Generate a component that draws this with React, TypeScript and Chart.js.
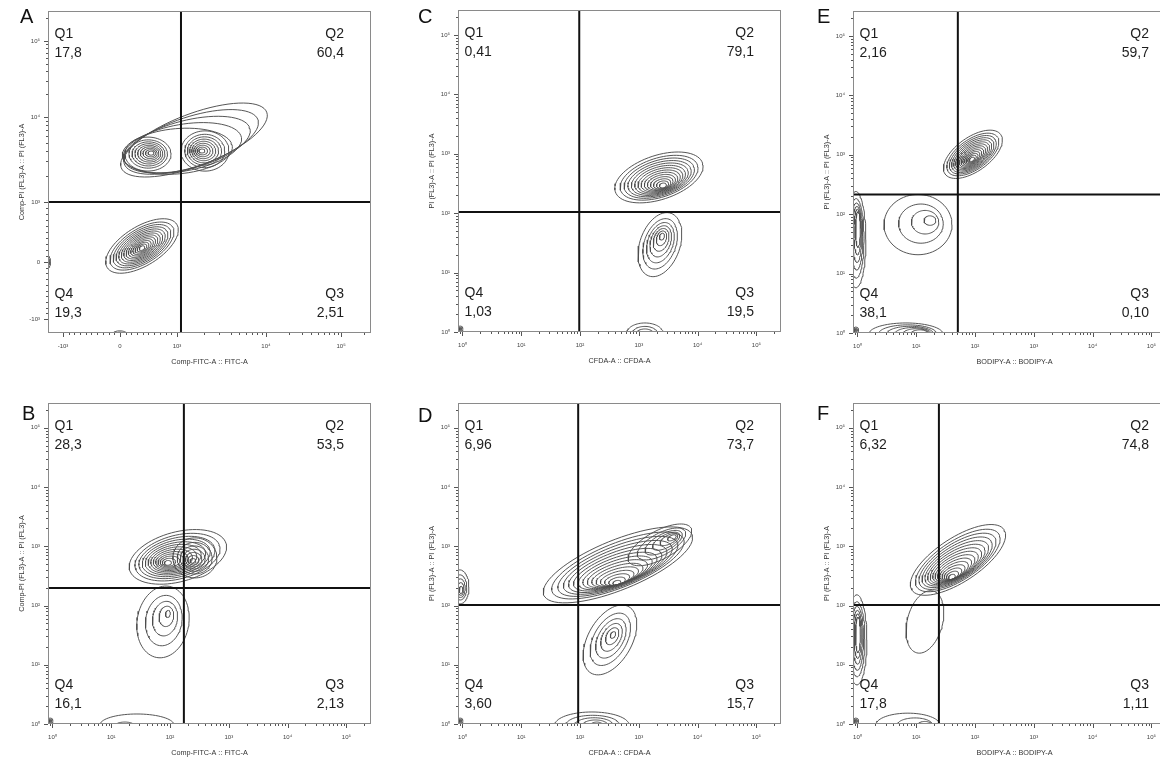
import React, { useEffect, useRef } from 'react';
import { Chart, registerables } from 'chart.js';
Chart.register(...registerables);

// ---------------- data ----------------
const quadrantNames = ['Q1', 'Q2', 'Q3', 'Q4'];
const quadA = ['17,8', '60,4', '2,51', '19,3'];
const quadB = ['28,3', '53,5', '2,13', '16,1'];
const quadC = ['0,41', '79,1', '19,5', '1,03'];
const quadD = ['6,96', '73,7', '15,7', '3,60'];
const quadE = ['2,16', '59,7', '0,10', '38,1'];
const quadF = ['6,32', '74,8', '1,11', '17,8'];

// log-axis decade tick labels (10^0 .. 10^5)
const decadeLabels = ['10⁰', '10¹', '10²', '10³', '10⁴', '10⁵'];
// biexponential (panel A) tick labels and their channel values (0..1024 display)
const biexLabels = ['-10³', '0', '10³', '10⁴', '10⁵'];
const biexXChannels = [47.6, 228, 409, 691, 929];
const biexYChannels = [44.5, 225.8, 416.6, 687, 928.6];

// quadrant gates [x, y]
const gatesA = [421.6, 416.6]; // channels
const gatesB = [172, 198];
const gatesC = [97, 105];
const gatesD = [93, 102];
const gatesE = [51, 214];
const gatesF = [24.3, 102];

// contour populations: o = outer ring [cx, cy, rx, ry, angleDeg], i = innermost ring, n = levels
// panel A in channel units, others in log10 decades
const contoursA = [
  { o: [462.8, 613.7, 247, 83, 21], i: [410, 578, 175, 72, 5], n: 5 },
  { o: [317, 569, 73, 54, 0], i: [326.5, 572, 9.5, 6.4, 0], n: 9 },
  { o: [497.7, 578.8, 76, 64, 0], i: [488, 578.8, 9.5, 6.4, 0], n: 9 },
  { o: [298, 276.7, 130, 62, 32], i: [298, 270, 9.5, 6.4, 32], n: 14 },
  { o: [228, -3, 22, 10, 0], i: [228, -3, 6, 3, 0], n: 3 },
  { o: [0, 225.8, 8, 19, 0], i: [0, 225.8, 3, 6, 0], n: 3 },
];
const contoursB = [
  { o: [2.134, 2.821, 0.85, 0.42, 15], i: [1.964, 2.72, 0.06, 0.04, 5], n: 13 },
  { o: [2.423, 2.804, 0.374, 0.338, 0], i: [2.39, 2.753, 0.05, 0.04, 0], n: 7 },
  { o: [1.88, 1.723, 0.61, 0.44, 80], i: [1.964, 1.858, 0.06, 0.04, 80], n: 5 },
  { o: [1.437, -0.017, 0.63, 0.186, 0], i: [1.233, -0.017, 0.15, 0.05, 0], n: 2 },
  { o: [-0.04, 0.05, 0.05, 0.05, 0], i: [-0.04, 0.05, 0.015, 0.015, 0], n: 3 },
];
const contoursC = [
  { o: [3.342, 2.601, 0.78, 0.372, 18], i: [3.41, 2.466, 0.06, 0.04, 12], n: 14 },
  { o: [3.359, 1.47, 0.56, 0.34, 70], i: [3.393, 1.605, 0.06, 0.04, 70], n: 7 },
  { o: [3.104, -0.017, 0.306, 0.169, 0], i: [3.104, -0.017, 0.136, 0.068, 0], n: 3 },
  { o: [-0.04, 0.05, 0.05, 0.05, 0], i: [-0.04, 0.05, 0.015, 0.015, 0], n: 3 },
];
const contoursD = [
  { o: [2.645, 2.686, 1.36, 0.42, 22], i: [2.628, 2.382, 0.07, 0.04, 14], n: 15 },
  { o: [3.359, 3.024, 0.6, 0.24, 28], i: [3.563, 3.142, 0.08, 0.04, 28], n: 6 },
  { o: [2.509, 1.419, 0.646, 0.372, 60], i: [2.56, 1.503, 0.06, 0.04, 60], n: 6 },
  { o: [2.202, -0.017, 0.63, 0.22, 0], i: [2.287, -0.017, 0.1, 0.05, 0], n: 5 },
  { o: [-0.042, 2.314, 0.153, 0.287, 0], i: [-0.025, 2.264, 0.03, 0.06, 0], n: 5 },
  { o: [-0.04, 0.05, 0.05, 0.05, 0], i: [-0.04, 0.05, 0.015, 0.015, 0], n: 3 },
];
const contoursE = [
  { o: [1.964, 3.007, 0.578, 0.287, 35], i: [1.947, 2.922, 0.05, 0.03, 35], n: 14 },
  { o: [1.03, 1.824, 0.578, 0.507, 0], i: [1.233, 1.892, 0.1, 0.08, 0], n: 4 },
  { o: [-0.026, 1.571, 0.17, 0.81, 0], i: [0.008, 1.74, 0.04, 0.3, 0], n: 6 },
  { o: [0.825, -0.017, 0.63, 0.186, 0], i: [1.06, -0.017, 0.15, 0.07, 0], n: 6 },
  { o: [-0.03, 0.05, 0.05, 0.05, 0], i: [-0.03, 0.05, 0.015, 0.015, 0], n: 3 },
];
const contoursF = [
  { o: [1.71, 2.77, 0.935, 0.372, 33], i: [1.607, 2.483, 0.06, 0.04, 24], n: 15 },
  { o: [1.148, 1.723, 0.54, 0.3, 75], i: [1.148, 1.723, 0.54, 0.3, 75], n: 1 },
  { o: [-0.009, 1.42, 0.17, 0.76, 0], i: [0.008, 1.504, 0.04, 0.3, 0], n: 6 },
  { o: [0.858, -0.017, 0.544, 0.2, 0], i: [1.148, -0.017, 0.12, 0.06, 0], n: 3 },
  { o: [-0.03, 0.05, 0.05, 0.05, 0], i: [-0.03, 0.05, 0.015, 0.015, 0], n: 3 },
];

// ---------------- layout ----------------
const FONT = '"Liberation Sans", Arial, sans-serif';
const PW = 323;
const LEFT_PAD = 60;
const TOP_PAD = 15;
const RIGHT_PAD = 40;
const BOTTOM_PAD = 50;
const LOG_MIN_X = 0.84;
const LOG_MIN_Y = 1;
const LOG_MAX = 262144;

type Pop = { o: number[]; i: number[]; n: number };
type PanelCfg = {
  letter: string; kind: 'biex' | 'log'; xTitle: string; yTitle: string;
  quad: string[]; gate: number[]; contours: Pop[];
  L: number; T: number; H: number; letterPos: number[];
};

const panels: PanelCfg[] = [
  { letter: 'A', kind: 'biex', xTitle: 'Comp-FITC-A :: FITC-A', yTitle: 'Comp-PI (FL3)-A :: PI (FL3)-A', quad: quadA, gate: gatesA, contours: contoursA, L: 48, T: 11, H: 322, letterPos: [20, 23] },
  { letter: 'B', kind: 'log', xTitle: 'Comp-FITC-A :: FITC-A', yTitle: 'Comp-PI (FL3)-A :: PI (FL3)-A', quad: quadB, gate: gatesB, contours: contoursB, L: 48, T: 403, H: 321, letterPos: [22, 420] },
  { letter: 'C', kind: 'log', xTitle: 'CFDA-A :: CFDA-A', yTitle: 'PI (FL3)-A :: PI (FL3)-A', quad: quadC, gate: gatesC, contours: contoursC, L: 458, T: 10, H: 322, letterPos: [418, 23] },
  { letter: 'D', kind: 'log', xTitle: 'CFDA-A :: CFDA-A', yTitle: 'PI (FL3)-A :: PI (FL3)-A', quad: quadD, gate: gatesD, contours: contoursD, L: 458, T: 403, H: 321, letterPos: [418, 422] },
  { letter: 'E', kind: 'log', xTitle: 'BODIPY-A :: BODIPY-A', yTitle: 'PI (FL3)-A :: PI (FL3)-A', quad: quadE, gate: gatesE, contours: contoursE, L: 853, T: 11, H: 322, letterPos: [817, 23] },
  { letter: 'F', kind: 'log', xTitle: 'BODIPY-A :: BODIPY-A', yTitle: 'PI (FL3)-A :: PI (FL3)-A', quad: quadF, gate: gatesF, contours: contoursF, L: 853, T: 403, H: 321, letterPos: [817, 420] },
];

// ---------------- helpers ----------------
function ring(p: Pop, t: number, log: boolean) {
  const tc = Math.pow(t, 1.6);
  const lr = (a: number, b: number) => a + (b - a) * t;
  const lc = (a: number, b: number) => a + (b - a) * tc;
  const cx = lc(p.o[0], p.i[0]);
  const cy = lc(p.o[1], p.i[1]);
  const rx = lr(p.o[2], p.i[2]);
  const ry = lr(p.o[3], p.i[3]);
  const a = (lc(p.o[4], p.i[4]) * Math.PI) / 180;
  const pts: { x: number; y: number }[] = [];
  const N = 72;
  for (let j = 0; j <= N; j++) {
    const th = (2 * Math.PI * j) / N;
    const dx = rx * Math.cos(th);
    const dy = ry * Math.sin(th);
    const x = cx + dx * Math.cos(a) - dy * Math.sin(a);
    const y = cy + dx * Math.sin(a) + dy * Math.cos(a);
    pts.push(log ? { x: Math.pow(10, x), y: Math.pow(10, y) } : { x, y });
  }
  return pts;
}

function logTicks(min: number, max: number) {
  const out: { value: number }[] = [];
  for (let e = -1; e <= 5; e++) {
    for (let m = 1; m <= 9; m++) {
      const v = m * Math.pow(10, e);
      if (v >= min * 0.9999 && v <= max) out.push({ value: v });
    }
  }
  return out;
}

function logLabel(v: number) {
  const e = Math.log10(v);
  const r = Math.round(e);
  if (Math.abs(e - r) < 1e-6 && r >= 0 && r < decadeLabels.length) return decadeLabels[r];
  return '';
}

function biexTicks(ch: number[]) {
  const out: { value: number }[] = [];
  ch.forEach((c) => out.push({ value: c }));
  for (let seg = 0; seg < 2; seg++) {
    for (let k = 1; k <= 9; k++) out.push({ value: ch[seg] + ((ch[seg + 1] - ch[seg]) * k) / 10 });
  }
  for (let seg = 2; seg < 4; seg++) {
    for (let m = 2; m <= 9; m++) out.push({ value: ch[seg] + Math.log10(m) * (ch[seg + 1] - ch[seg]) });
  }
  for (let m = 2; m <= 9; m++) {
    const v = ch[4] + Math.log10(m) * (ch[4] - ch[3]);
    if (v <= 1024) out.push({ value: v });
  }
  return out.sort((a, b) => a.value - b.value);
}

function biexLabel(v: number, ch: number[]) {
  const idx = ch.findIndex((c) => Math.abs(c - v) < 1e-6);
  return idx >= 0 ? biexLabels[idx] : '';
}

function makePlugin(p: PanelCfg) {
  return {
    id: 'panelDecor' + p.letter,
    afterDatasetsDraw(chart: any) {
      const { ctx, chartArea } = chart;
      const { left, top, right, bottom } = chartArea;
      ctx.save();
      ctx.strokeStyle = '#8a8a8a';
      ctx.lineWidth = 1;
      ctx.strokeRect(Math.round(left) + 0.5, Math.round(top) + 0.5, Math.round(right - left) - 1, Math.round(bottom - top) - 1);
      ctx.strokeStyle = '#555';
      const xs = chart.scales.x;
      xs.ticks.forEach((t: any) => {
        const px = xs.getPixelForValue(t.value);
        if (px < left - 0.5 || px > right + 0.5) return;
        const len = t.label !== '' ? 4 : 2;
        ctx.beginPath();
        ctx.moveTo(Math.round(px) + 0.5, bottom);
        ctx.lineTo(Math.round(px) + 0.5, bottom + len);
        ctx.stroke();
      });
      const ys = chart.scales.y;
      ys.ticks.forEach((t: any) => {
        const py = ys.getPixelForValue(t.value);
        if (py < top - 0.5 || py > bottom + 0.5) return;
        const len = t.label !== '' ? 4 : 2;
        ctx.beginPath();
        ctx.moveTo(left, Math.round(py) + 0.5);
        ctx.lineTo(left - len, Math.round(py) + 0.5);
        ctx.stroke();
      });
      ctx.restore();
    },
    afterDraw(chart: any) {
      const { ctx, chartArea } = chart;
      const { left, top, right, bottom } = chartArea;
      ctx.save();
      ctx.fillStyle = '#1e1e1e';
      ctx.font = `14px ${FONT}`;
      ctx.textBaseline = 'alphabetic';
      ctx.textAlign = 'left';
      ctx.fillText(quadrantNames[0], left + 6.5, top + 26.5);
      ctx.fillText(p.quad[0], left + 6.5, top + 45.5);
      ctx.fillText(quadrantNames[3], left + 6.5, bottom - 35.5);
      ctx.fillText(p.quad[3], left + 6.5, bottom - 16.5);
      ctx.textAlign = 'right';
      ctx.fillText(quadrantNames[1], right - 27, top + 26.5);
      ctx.fillText(p.quad[1], right - 27, top + 45.5);
      ctx.fillText(quadrantNames[2], right - 27, bottom - 35.5);
      ctx.fillText(p.quad[2], right - 27, bottom - 16.5);
      ctx.textAlign = 'left';
      ctx.fillStyle = '#111';
      ctx.font = `20px ${FONT}`;
      ctx.fillText(p.letter, p.letterPos[0] - (p.L - LEFT_PAD), p.letterPos[1] - (p.T - TOP_PAD));
      ctx.restore();
    },
  };
}

function buildConfig(p: PanelCfg): any {
  const log = p.kind === 'log';
  const xMin = log ? LOG_MIN_X : 0;
  const xMax = log ? LOG_MAX : 1024;
  const yMin = log ? LOG_MIN_Y : 0;
  const yMax = log ? LOG_MAX : 1024;
  const datasets: any[] = [];
  const gateStyle = { showLine: true, pointRadius: 0, borderColor: '#111', borderWidth: 2, fill: false };
  datasets.push({ ...gateStyle, data: [{ x: p.gate[0], y: yMin }, { x: p.gate[0], y: yMax }] });
  datasets.push({ ...gateStyle, data: [{ x: xMin, y: p.gate[1] }, { x: xMax, y: p.gate[1] }] });
  p.contours.forEach((pop) => {
    for (let k = 0; k < pop.n; k++) {
      const t = pop.n === 1 ? 0 : Math.pow(k / (pop.n - 1), 0.8);
      datasets.push({
        data: ring(pop, t, log), showLine: true, pointRadius: 0,
        borderColor: '#4d4d4d', borderWidth: 0.95, fill: false, tension: 0,
      });
    }
  });

  const tickFont = { family: FONT, size: 6 };
  const titleFont = { family: FONT, size: 7.25 };
  const common = {
    grid: { display: false, drawTicks: true, tickLength: 4 },
    border: { display: false },
  };
  const xScale: any = {
    ...common,
    type: log ? 'logarithmic' : 'linear',
    position: 'bottom',
    min: xMin, max: xMax,
    afterBuildTicks: (s: any) => { s.ticks = log ? logTicks(xMin, xMax) : biexTicks(biexXChannels); },
    afterFit: (s: any) => { s.height = BOTTOM_PAD - 5; },
    ticks: {
      autoSkip: false, maxRotation: 0, minRotation: 0, padding: 6, color: '#444', font: tickFont,
      callback: (v: number) => (log ? logLabel(v) : biexLabel(v, biexXChannels)),
    },
    title: { display: true, text: p.xTitle, color: '#333', font: titleFont, padding: { top: 0, bottom: 12.15 } },
  };
  const yScale: any = {
    ...common,
    type: log ? 'logarithmic' : 'linear',
    position: 'left',
    min: yMin, max: yMax,
    afterBuildTicks: (s: any) => { s.ticks = log ? logTicks(yMin, yMax) : biexTicks(biexYChannels); },
    afterFit: (s: any) => { s.width = 40; },
    ticks: {
      autoSkip: false, padding: 4, color: '#444', font: tickFont,
      callback: (v: number) => (log ? logLabel(v) : biexLabel(v, biexYChannels)),
    },
    title: { display: true, text: p.yTitle, color: '#333', font: titleFont, padding: { top: 9.15, bottom: 0 } },
  };

  return {
    type: 'scatter',
    data: { datasets },
    options: {
      responsive: false,
      animation: false,
      devicePixelRatio: 1,
      events: [],
      layout: { padding: { left: LEFT_PAD - 40, top: TOP_PAD, right: RIGHT_PAD, bottom: 5 } },
      plugins: { legend: { display: false }, tooltip: { enabled: false } },
      scales: { x: xScale, y: yScale },
    },
    plugins: [makePlugin(p)],
  };
}

function Panel({ p }: { p: PanelCfg }) {
  const ref = useRef<HTMLCanvasElement>(null);
  const w = LEFT_PAD + PW + RIGHT_PAD;
  const h = TOP_PAD + p.H + BOTTOM_PAD;
  useEffect(() => {
    if (!ref.current) return;
    const chart = new Chart(ref.current, buildConfig(p));
    return () => chart.destroy();
  }, []);
  return (
    <canvas
      ref={ref}
      width={w}
      height={h}
      style={{ position: 'absolute', left: p.L - LEFT_PAD, top: p.T - TOP_PAD, width: w, height: h }}
    />
  );
}

export default function App() {
  return (
    <div style={{ position: 'absolute', left: 0, top: 0, width: 1160, height: 759, overflow: 'hidden', background: '#fff' }}>
      {panels.map((p) => (
        <Panel key={p.letter} p={p} />
      ))}
    </div>
  );
}
